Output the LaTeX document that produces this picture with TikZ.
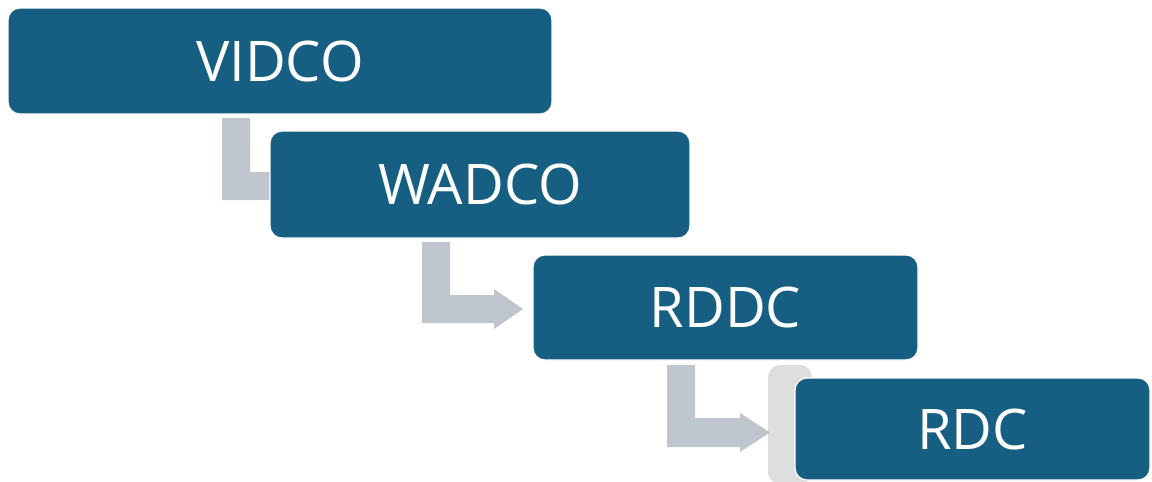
\documentclass[tikz,border=0pt]{standalone}
\usepackage{fontspec}
\setmainfont{Open Sans}
\usetikzlibrary{backgrounds}
\definecolor{boxblue}{HTML}{175F82}
\definecolor{arrgray}{HTML}{BEC5CD}
\definecolor{glowgray}{HTML}{DEDEDE}
\begin{document}
\begin{tikzpicture}[x=1pt,y=-1pt,
  stage/.style={fill=boxblue, draw=white, line width=1.2pt, rounded corners=12pt,
    text=white, font=\fontsize{56}{62}\selectfont, inner sep=0pt},
  blockarrow/.style={fill=arrgray, draw=none},
  glowshape/.style={fill=glowgray, draw=none, rounded corners=12pt}]
\useasboundingbox (0,0) rectangle (1152,482);
\node[stage, minimum width=544pt, minimum height=106pt] (vidco) at (280,61) {VIDCO};
\node[stage, minimum width=420pt, minimum height=107pt] (wadco) at (480,184.5) {WADCO};
\node[stage, minimum width=385pt, minimum height=105pt] (rddc) at (725.5,307.5) {RDDC};
\node[stage, minimum width=355pt, minimum height=102pt] (rdc) at (972.5,429) {RDC};
\begin{scope}[on background layer]
  \fill[glowshape] (768,365) rectangle (812,484);
  \fill[blockarrow] (222,118) -- (250,118) -- (250,172) -- (280,172) -- (280,200) -- (222,200) -- cycle;
  \fill[blockarrow] (422,242) -- (450,242) -- (450,295) -- (494,295) -- (494,289) -- (523,309)
    -- (494,329) -- (494,323) -- (422,323) -- cycle;
  \fill[blockarrow] (667,365) -- (695,365) -- (695,418) -- (740,418) -- (740,413) -- (770,432.5)
    -- (740,452) -- (740,447) -- (667,447) -- cycle;
\end{scope}
\end{tikzpicture}
\end{document}
